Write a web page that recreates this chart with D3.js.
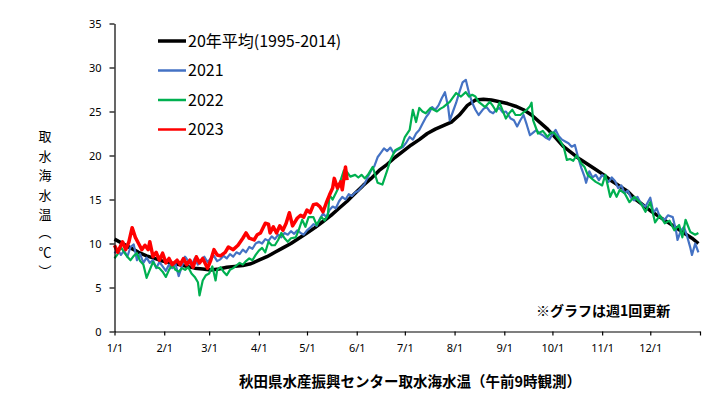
<!DOCTYPE html>
<html>
<head>
<meta charset="utf-8">
<script src="https://cdn.jsdelivr.net/npm/d3@7"></script>
<style>
  body { margin: 0; background: #fff; }
  svg { font-family: "Noto Sans CJK JP", "Noto Sans", sans-serif; }
</style>
</head>
<body>
<div id="chart"></div>
<script>
// day of year (0 = 1/1) and water temperature (℃)
const avgData = [
  [0,10.5],[5,10.0],[10,9.5],[15,9.0],[20,8.6],[25,8.3],[30,8.0],[35,7.8],[40,7.6],[45,7.4],
  [50,7.2],[55,7.1],[60,7.0],[65,7.1],[70,7.3],[75,7.4],[80,7.5],[85,7.7],[90,8.1],[95,8.5],
  [100,9.0],[105,9.5],[110,10.0],[115,10.6],[120,11.2],[125,11.8],[130,12.5],[135,13.2],[140,14.0],[145,14.8],
  [150,15.7],[155,16.6],[160,17.4],[165,18.3],[170,19.0],[175,19.8],[180,20.5],[185,21.2],[190,21.8],[195,22.5],
  [200,23.0],[205,23.4],[210,23.8],[215,24.6],[220,25.7],[225,26.3],[230,26.4],[235,26.3],[240,26.1],[245,25.9],
  [250,25.6],[255,25.2],[260,24.6],[265,23.8],[270,23.0],[275,22.0],[280,21.0],[285,20.3],[290,19.6],[295,19.0],
  [300,18.4],[305,17.8],[310,17.1],[315,16.5],[320,15.9],[325,15.0],[330,14.3],[335,13.6],[340,13.0],[345,12.4],
  [350,11.8],[355,11.2],[360,10.6],[364,10.0]
];

const data2021 = [
  [0,8.9],[2,9.3],[4,8.7],[6,9.2],[8,8.5],[10,9.6],[12,9.9],[14,8.1],[16,8.8],[18,7.8],
  [20,8.4],[22,7.8],[24,8.1],[26,7.2],[28,7.9],[30,7.4],[32,6.9],[34,7.6],[36,7.2],[38,7.7],
  [40,6.3],[42,7.4],[44,8.5],[46,8.0],[48,7.5],[50,8.3],[52,7.6],[54,8.1],[56,8.5],[58,7.9],
  [60,8.3],[62,8.6],[64,8.0],[66,8.2],[68,8.6],[70,8.3],[72,8.8],[74,8.5],[76,9.0],[78,8.8],
  [80,9.3],[82,9.0],[84,9.6],[86,9.4],[88,10.0],[90,10.2],[92,10.0],[94,10.5],[96,10.3],[98,10.8],
  [100,10.5],[102,11.0],[104,10.7],[106,11.2],[108,11.0],[110,11.4],[112,11.1],[114,11.5],[116,11.2],[118,11.0],
  [120,11.5],[122,11.8],[124,12.2],[126,12.0],[128,12.8],[130,13.4],[132,13.0],[134,13.8],[136,14.2],[138,14.0],
  [140,14.8],[142,15.3],[144,15.0],[146,15.6],[148,15.4],[150,15.8],[152,16.0],[154,16.4],[156,16.8],[158,17.6],
  [160,18.3],[162,18.8],[164,19.8],[166,20.3],[168,20.8],[170,20.5],[172,20.9],[174,20.3],[176,20.6],[178,20.8],
  [180,21.0],[182,21.5],[184,22.1],[186,21.8],[188,22.5],[190,22.9],[192,23.6],[194,24.3],[196,24.8],[198,25.5],
  [200,25.2],[202,25.7],[204,26.5],[206,27.2],[208,25.5],[209,24.0],[211,25.0],[213,26.0],[215,27.2],[217,28.3],
  [219,28.6],[221,27.1],[223,26.0],[225,25.2],[227,24.6],[230,25.3],[232,25.5],[234,25.0],[236,24.8],[238,25.2],
  [240,25.4],[242,24.9],[244,25.0],[247,24.2],[249,24.0],[251,23.3],[253,24.0],[255,24.6],[257,23.5],[259,22.3],
  [261,22.6],[263,22.9],[265,22.5],[267,22.3],[269,22.0],[271,21.8],[273,22.4],[275,22.9],[277,22.2],[279,21.8],
  [281,21.6],[283,21.4],[285,21.0],[287,21.2],[289,19.8],[291,18.6],[293,17.6],[294,16.9],[296,18.2],[298,17.5],
  [300,17.8],[302,17.2],[304,17.8],[306,17.4],[308,17.0],[310,17.5],[312,17.1],[314,16.3],[316,16.6],[318,15.7],
  [320,16.0],[322,15.2],[324,14.9],[326,15.3],[328,14.6],[331,14.2],[334,15.2],[336,13.5],[338,14.0],[340,13.0],
  [343,12.7],[345,13.2],[348,13.0],[350,11.5],[351,10.4],[353,11.4],[355,11.9],[357,10.8],[359,9.5],[360,8.7],
  [362,10.0],[364,9.0]
];

const data2022 = [
  [0,8.3],[2,8.8],[4,9.6],[6,9.0],[8,8.5],[10,8.1],[12,8.6],[14,8.9],[16,8.0],[18,7.6],
  [20,6.1],[22,7.0],[24,7.9],[26,7.3],[28,7.2],[30,6.8],[32,6.2],[34,7.0],[36,7.6],[38,7.0],
  [40,6.8],[42,7.2],[44,7.0],[46,7.3],[48,6.6],[50,6.2],[52,5.6],[53,4.1],[55,5.8],[57,6.4],
  [59,6.6],[61,7.4],[63,5.8],[64,7.0],[66,7.3],[68,6.8],[70,6.4],[72,7.0],[74,7.2],[76,7.5],
  [78,7.8],[80,7.6],[82,8.0],[84,8.3],[86,8.1],[88,8.7],[90,9.2],[92,9.5],[94,9.0],[96,10.2],
  [98,9.8],[100,9.8],[102,10.4],[104,11.2],[106,10.6],[108,10.2],[110,10.6],[113,10.7],[115,11.6],[117,12.7],
  [119,11.9],[121,13.0],[124,13.0],[126,12.1],[129,13.0],[131,12.6],[133,13.2],[134,15.5],[136,15.0],[139,16.1],
  [141,17.2],[143,18.3],[145,18.1],[147,17.6],[150,17.8],[152,17.5],[154,17.8],[156,17.4],[158,17.8],[161,18.7],
  [163,17.5],[164,16.9],[167,16.7],[170,18.3],[172,19.5],[175,20.6],[177,20.8],[179,21.0],[181,22.1],[184,22.9],
  [186,25.2],[188,23.8],[190,25.4],[192,25.0],[194,24.8],[197,25.4],[199,25.2],[201,25.0],[203,25.3],[205,25.5],
  [207,25.8],[209,26.1],[211,26.6],[213,27.1],[216,26.7],[219,27.2],[221,26.7],[223,26.9],[225,26.7],[227,26.1],
  [229,25.8],[231,25.5],[234,26.1],[236,25.6],[238,25.0],[240,26.0],[242,25.1],[244,24.2],[246,24.8],[248,25.2],
  [250,24.6],[253,24.6],[255,24.9],[257,25.2],[259,25.6],[260,26.0],[261,24.0],[264,22.5],[267,22.8],[270,22.1],
  [272,22.6],[274,22.6],[276,22.1],[278,21.6],[280,21.0],[282,19.5],[284,19.6],[286,19.4],[288,20.0],[291,19.1],
  [293,18.7],[295,17.8],[298,17.3],[300,17.0],[302,16.8],[304,16.6],[306,17.8],[309,15.3],[311,16.1],[313,15.3],
  [315,16.1],[318,15.7],[321,14.7],[324,15.3],[328,14.6],[331,13.6],[334,14.7],[337,12.4],[340,13.2],[343,12.3],
  [346,12.6],[349,11.5],[352,12.1],[354,10.7],[356,12.7],[359,11.3],[362,11.0],[364,11.2]
];

const data2023 = [
  [0,9.8],[2,9.0],[5,10.2],[7,9.3],[9,10.2],[11,11.8],[13,10.7],[15,10.0],[17,9.3],[19,9.8],
  [21,9.3],[22,10.2],[24,8.5],[26,9.0],[28,8.1],[30,8.9],[32,7.8],[34,8.3],[36,7.6],[39,8.1],
  [41,7.6],[43,8.3],[45,7.6],[47,8.1],[49,7.3],[51,8.5],[53,7.8],[55,8.3],[58,7.2],[60,8.1],
  [62,9.3],[64,8.7],[66,8.6],[69,9.0],[71,9.6],[74,9.3],[77,9.8],[80,10.6],[82,11.2],[84,10.6],
  [87,10.4],[89,11.0],[91,11.2],[94,12.3],[96,12.2],[97,11.2],[99,11.9],[101,11.2],[103,12.0],[105,11.5],
  [107,12.3],[109,13.5],[111,12.0],[114,12.9],[116,13.2],[118,13.0],[120,13.8],[122,13.5],[124,14.4],[126,14.5],
  [128,14.2],[130,13.6],[132,14.6],[134,15.5],[136,16.3],[137,17.4],[139,16.3],[141,17.0],[142,16.1],[143,17.4],
  [144,18.7],[145,17.2]
];

const monthDays = [0, 31, 59, 90, 120, 151, 181, 212, 243, 273, 304, 334, 365];
const monthLabels = ["1/1", "2/1", "3/1", "4/1", "5/1", "6/1", "7/1", "8/1", "9/1", "10/1", "11/1", "12/1", ""];
const yTicks = [0, 5, 10, 15, 20, 25, 30, 35];

const seriesNames = ["20年平均(1995-2014)", "2021", "2022", "2023"];
const seriesColors = ["#000000", "#4472C4", "#00B050", "#FF0000"];
const seriesWidths = [3.5, 2.2, 2.2, 3.5];
const seriesData = [avgData, data2021, data2022, data2023];

const yTitle = ["取", "水", "海", "水", "温", "︵", "℃", "︶"];
const xTitle = "秋田県水産振興センター取水海水温（午前9時観測）";
const note = "※グラフは週1回更新";

const width = 724, height = 398;
const plot = {left: 114.5, right: 700, top: 23.5, bottom: 331.5};

const svg = d3.select("#chart").append("svg")
  .attr("width", width)
  .attr("height", height);

const x = d3.scaleLinear().domain([0, 365]).range([plot.left, plot.right]);
const y = d3.scaleLinear().domain([0, 35]).range([plot.bottom, plot.top]);

const line = d3.line().x(d => x(d[0])).y(d => y(d[1]));

// series
svg.selectAll(".series")
  .data(seriesData)
  .enter()
  .append("path")
  .attr("class", "series")
  .attr("d", d => line(d))
  .attr("fill", "none")
  .attr("stroke", (d, i) => seriesColors[i])
  .attr("stroke-width", (d, i) => seriesWidths[i])
  .attr("stroke-linejoin", "round");

// axes
const xAxis = svg.append("g")
  .attr("transform", `translate(0,${plot.bottom})`)
  .call(d3.axisBottom(x)
    .tickValues(monthDays)
    .tickFormat((d, i) => monthLabels[i])
    .tickSize(4)
    .tickSizeOuter(0)
    .tickPadding(9));

const yAxis = svg.append("g")
  .attr("transform", `translate(${plot.left},0)`)
  .call(d3.axisLeft(y)
    .tickValues(yTicks)
    .tickSize(5)
    .tickSizeOuter(0)
    .tickPadding(8));

[xAxis, yAxis].forEach(g => {
  g.selectAll("path, line").attr("stroke", "#000").attr("stroke-width", 1.2);
  g.selectAll("text").attr("fill", "#000").style("font-size", "11px")
    .style("font-family", "\"Noto Sans\", sans-serif");
});

// legend
const legend = svg.append("g");
seriesNames.forEach((name, i) => {
  const ly = 41 + i * 29.5;
  legend.append("line")
    .attr("x1", 158).attr("x2", 186)
    .attr("y1", ly).attr("y2", ly)
    .attr("stroke", seriesColors[i])
    .attr("stroke-width", i === 0 ? 3.5 : 2.5);
  legend.append("text")
    .attr("x", 188).attr("y", ly + 5.5)
    .style("font-size", "16px")
    .attr("fill", "#000")
    .text(name);
});

// y title (vertical)
svg.append("g").selectAll("text")
  .data(yTitle)
  .enter()
  .append("text")
  .attr("x", 45)
  .attr("y", (d, i) => 141 + i * 19.6 - (i > 4 ? 2 : 0))
  .attr("text-anchor", "middle")
  .style("font-size", "13px")
  .attr("fill", "#000")
  .text(d => d);

// x title
svg.append("text")
  .attr("x", 410).attr("y", 387)
  .attr("text-anchor", "middle")
  .style("font-size", "14.5px")
  .style("font-weight", "bold")
  .attr("fill", "#000")
  .text(xTitle);

// note
svg.append("text")
  .attr("x", 536).attr("y", 316)
  .style("font-size", "14px")
  .style("font-weight", "bold")
  .attr("fill", "#000")
  .text(note);
</script>
</body>
</html>
